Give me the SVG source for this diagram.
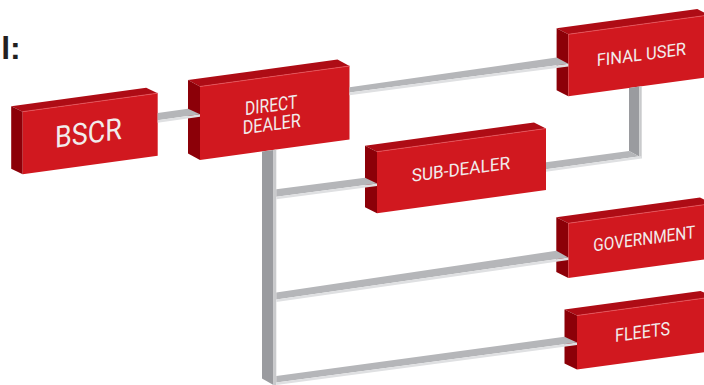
<svg xmlns="http://www.w3.org/2000/svg" width="704" height="385" viewBox="0 0 704 385">
<style>
.front{fill:#d1181f}
.top{fill:#ae0c15}
.side{fill:#8c0008}
.edge{fill:none;stroke:#e6565c;stroke-width:0.8}
.lbl{font-family:Roboto,"DejaVu Sans",sans-serif;fill:#f1ecec}
.bt{fill:#b5b6b9}
.bf{fill:#dfe0e2}
.vd{fill:#9a9b9f}
.vl{fill:#c9cacc}
</style>
<rect width="704" height="385" fill="#ffffff"/>
<text x="1.2" y="59.3" font-family="'Liberation Sans',Arial,sans-serif" font-weight="bold" font-size="32" fill="#231f20">l:</text>

<g id="bscr">
<polygon class="top" points="22.7,111.7 157.7,93.2 146.2,87.7 11.2,106.2"/>
<polygon class="side" points="22.7,111.7 11.2,106.2 11.2,168.8 22.7,174.3"/>
<polygon class="front" points="22.7,111.7 157.7,93.2 157.7,155.8 22.7,174.3"/>
<line class="edge" x1="22.7" y1="111.7" x2="157.7" y2="93.2"/>
<text class="lbl" transform="translate(88.4,143.3) skewY(-7.5)" x="-33.3" y="0" font-size="30" textLength="66.7" lengthAdjust="spacingAndGlyphs">BSCR</text>
</g>

<g id="direct-dealer">
<polygon class="top" points="200,86.5 349.5,66 337.5,59.5 188,80"/>
<polygon class="side" points="200,86.5 188,80 188,153.5 200,160"/>
<polygon class="front" points="200,86.5 349.5,66 349.5,139.5 200,160"/>
<line class="edge" x1="200" y1="86.5" x2="349.5" y2="66"/>
<text class="lbl" transform="translate(271.2,111.7) skewY(-7.5)" x="-26.2" y="0" font-size="19" textLength="52.3" lengthAdjust="spacingAndGlyphs">DIRECT</text>
<text class="lbl" transform="translate(271.7,130.5) skewY(-7.5)" x="-29" y="0" font-size="19" textLength="58" lengthAdjust="spacingAndGlyphs">DEALER</text>
</g>

<g id="final-user">
<polygon class="top" points="568.3,34.3 709,15 697.3,9 556.6,28.3"/>
<polygon class="side" points="568.3,34.3 556.6,28.3 556.6,90.3 568.3,96.3"/>
<polygon class="front" points="568.3,34.3 709,15 709,77 568.3,96.3"/>
<line class="edge" x1="568.3" y1="34.3" x2="709" y2="15"/>
<text class="lbl" transform="translate(641.3,60.5) skewY(-7.5)" x="-44.6" y="0" font-size="17.5" textLength="89.3" lengthAdjust="spacingAndGlyphs">FINAL USER</text>
</g>

<g id="sub-dealer">
<polygon class="top" points="377,151.7 546,128.5 534,122.5 365,145.7"/>
<polygon class="side" points="377,151.7 365,145.7 365,207.3 377,213.3"/>
<polygon class="front" points="377,151.7 546,128.5 546,190.1 377,213.3"/>
<line class="edge" x1="377" y1="151.7" x2="546" y2="128.5"/>
<text class="lbl" transform="translate(460.8,175.3) skewY(-7.5)" x="-49.1" y="0" font-size="17.8" textLength="98.3" lengthAdjust="spacingAndGlyphs">SUB-DEALER</text>
</g>

<g id="government">
<polygon class="top" points="568.3,223.3 712,203.6 700,197.6 556.3,217.3"/>
<polygon class="side" points="568.3,223.3 556.3,217.3 556.3,272 568.3,278"/>
<polygon class="front" points="568.3,223.3 712,203.6 712,258.3 568.3,278"/>
<line class="edge" x1="568.3" y1="223.3" x2="712" y2="203.6"/>
<text class="lbl" transform="translate(644.3,244.8) skewY(-7.5)" x="-51" y="0" font-size="17.8" textLength="102" lengthAdjust="spacingAndGlyphs">GOVERNMENT</text>
</g>

<g id="fleets">
<polygon class="top" points="577,315.5 713,296.9 700.5,290.9 564.5,309.5"/>
<polygon class="side" points="577,315.5 564.5,309.5 564.5,363.5 577,369.5"/>
<polygon class="front" points="577,315.5 713,296.9 713,350.9 577,369.5"/>
<line class="edge" x1="577" y1="315.5" x2="713" y2="296.9"/>
<text class="lbl" transform="translate(642.5,338.3) skewY(-7.5)" x="-27.5" y="0" font-size="18.5" textLength="55" lengthAdjust="spacingAndGlyphs">FLEETS</text>
</g>

<g id="connectors">
<polygon class="bt" points="157.7,113 188,108.8 200,114.3 157.7,120.2"/>
<polygon class="bf" points="157.7,120.2 200,114.3 200,116.8 157.7,122.7"/>

<polygon class="bt" points="349.5,87.3 556.6,57.5 568.3,63.8 349.5,92.6"/>
<polygon class="bf" points="349.5,92.6 568.3,63.8 568.3,66.4 349.5,95.2"/>

<polygon class="vd" points="629,88 639.3,86.6 639.3,156.6 629,151"/>
<polygon class="vl" points="639.3,86.6 641.7,86.3 641.7,158.5 639.3,157"/>
<polygon class="bt" points="546,162.3 629,151 639.3,156.6 641.7,156 546,169.3"/>
<polygon class="bf" points="546,169.3 641.7,156 641.7,158.5 546,171.8"/>

<polygon class="vd" points="262,151.5 273.5,150 273.5,385 262,378.5"/>
<polygon class="vl" points="273.5,150 276.3,149.6 276.3,385 273.5,385"/>

<polygon class="bt" points="276.3,189.3 365,177.8 377,183.6 276.3,196.7"/>
<polygon class="bf" points="276.3,196.7 377,183.6 377,186.1 276.3,199.3"/>

<polygon class="bt" points="276.3,292.5 556.3,250.8 568.3,257.4 276.3,299.5"/>
<polygon class="bf" points="276.3,299.5 568.3,257.4 568.3,260 276.3,302"/>

<polygon class="bt" points="276.3,376 564.5,336.8 577,342.5 276.3,382.5"/>
<polygon class="bf" points="276.3,382.5 577,342.5 577,345 276.3,385"/>
</g>
</svg>
